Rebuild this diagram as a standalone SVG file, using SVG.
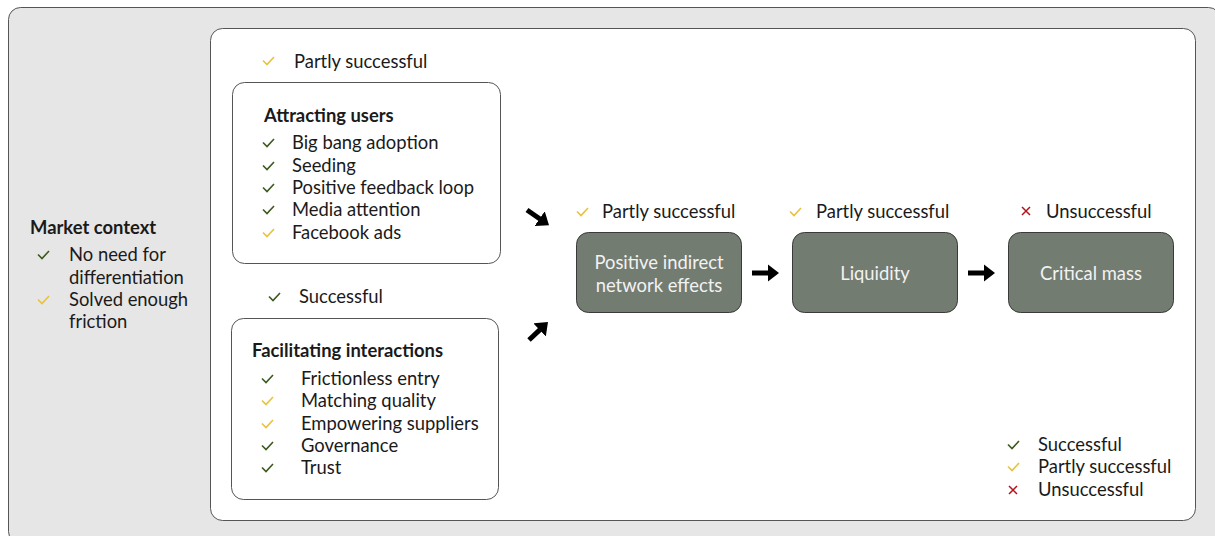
<svg xmlns="http://www.w3.org/2000/svg" width="1215" height="536" viewBox="0 0 1215 536">
  <style>
    text { font-family: Lato, "Open Sans", "Liberation Sans", sans-serif; font-size: 18.4px; fill: #1a1a1a; }
    .b { font-weight: bold; }
    .box { fill: #ffffff; stroke: #555555; stroke-width: 1; }
    .stage { fill: #737c71; stroke: #3a3a3a; stroke-width: 1; }
    .stage-t { fill: #f2f2f2; text-anchor: middle; }
    .ok { fill: none; stroke: #3b5a1c; stroke-width: 1.6; }
    .part { fill: none; stroke: #e8c23c; stroke-width: 1.6; }
    .no { fill: none; stroke: #b3121b; stroke-width: 1.5; }
    .arrow { stroke: #000000; stroke-width: 5; fill: none; marker-end: url(#head); }
  </style>
  <defs>
    <path id="tick" d="M0,3.5 L4,7.5 L11,0"/>
    <path id="cross" d="M0,0 L8,8 M8,0 L0,8"/>
    <marker id="head" markerUnits="userSpaceOnUse" markerWidth="12" markerHeight="18" refX="0.5" refY="9" orient="auto">
      <polygon points="0,0 11.5,9 0,18" fill="#000000"/>
    </marker>
  </defs>

  <!-- outer panel -->
  <rect x="8.5" y="7.5" width="1212" height="536" rx="12" fill="#e6e6e6" stroke="#555555" stroke-width="1"/>

  <!-- market context -->
  <g id="market-context">
    <text class="b" x="30" y="234">Market context</text>
    <use href="#tick" class="ok" x="38" y="251"/>
    <text x="69" y="261">No need for</text>
    <text x="69" y="284">differentiation</text>
    <use href="#tick" class="part" x="38" y="296"/>
    <text x="69" y="306">Solved enough</text>
    <text x="69" y="328">friction</text>
  </g>

  <!-- platform panel -->
  <rect x="210.5" y="28.5" width="985" height="492" rx="12" class="box"/>

  <g id="attracting-users">
    <use href="#tick" class="part" x="263" y="57"/>
    <text x="294" y="68">Partly successful</text>
    <rect x="232.5" y="82.5" width="268" height="181" rx="12" class="box"/>
    <text class="b" x="264" y="122">Attracting users</text>
    <use href="#tick" class="ok" x="263" y="139"/>
    <text x="292" y="149">Big bang adoption</text>
    <use href="#tick" class="ok" x="263" y="162"/>
    <text x="292" y="172">Seeding</text>
    <use href="#tick" class="ok" x="263" y="184"/>
    <text x="292" y="194">Positive feedback loop</text>
    <use href="#tick" class="ok" x="263" y="206"/>
    <text x="292" y="216">Media attention</text>
    <use href="#tick" class="part" x="263" y="229"/>
    <text x="292" y="239">Facebook ads</text>
  </g>

  <g id="facilitating-interactions">
    <use href="#tick" class="ok" x="269" y="293"/>
    <text x="299" y="303">Successful</text>
    <rect x="231.5" y="318.5" width="267" height="181" rx="12" class="box"/>
    <text class="b" x="252" y="357">Facilitating interactions</text>
    <use href="#tick" class="ok" x="262" y="375"/>
    <text x="301" y="385">Frictionless entry</text>
    <use href="#tick" class="part" x="262" y="397"/>
    <text x="301" y="407">Matching quality</text>
    <use href="#tick" class="part" x="262" y="420"/>
    <text x="301" y="430">Empowering suppliers</text>
    <use href="#tick" class="ok" x="262" y="442"/>
    <text x="301" y="452">Governance</text>
    <use href="#tick" class="ok" x="262" y="464"/>
    <text x="301" y="474">Trust</text>
  </g>

  <g id="network-effects">
    <use href="#tick" class="part" x="577" y="208"/>
    <text x="602" y="218">Partly successful</text>
    <rect x="576.5" y="232.5" width="165" height="80" rx="12" class="stage"/>
    <text class="stage-t" x="659" y="269">Positive indirect</text>
    <text class="stage-t" x="659" y="292">network effects</text>
  </g>

  <g id="liquidity">
    <use href="#tick" class="part" x="790" y="208"/>
    <text x="816" y="218">Partly successful</text>
    <rect x="792.5" y="232.5" width="165" height="80" rx="12" class="stage"/>
    <text class="stage-t" x="875" y="280">Liquidity</text>
  </g>

  <g id="critical-mass">
    <use href="#cross" class="no" x="1022" y="207"/>
    <text x="1046" y="218">Unsuccessful</text>
    <rect x="1008.5" y="232.5" width="165" height="80" rx="12" class="stage"/>
    <text class="stage-t" x="1091" y="280">Critical mass</text>
  </g>

  <g id="legend">
    <use href="#tick" class="ok" x="1008" y="441"/>
    <text x="1038" y="451">Successful</text>
    <use href="#tick" class="part" x="1008" y="463"/>
    <text x="1038" y="473">Partly successful</text>
    <use href="#cross" class="no" x="1009" y="486"/>
    <text x="1038" y="496">Unsuccessful</text>
  </g>

  <!-- connectors -->
  <g id="connectors">
    <line class="arrow" x1="527" y1="210" x2="540" y2="219"/>
    <line class="arrow" x1="529" y1="340" x2="540" y2="329.6"/>
    <line class="arrow" x1="752" y1="273" x2="768" y2="273"/>
    <line class="arrow" x1="968" y1="273" x2="984" y2="273"/>
  </g>
</svg>
